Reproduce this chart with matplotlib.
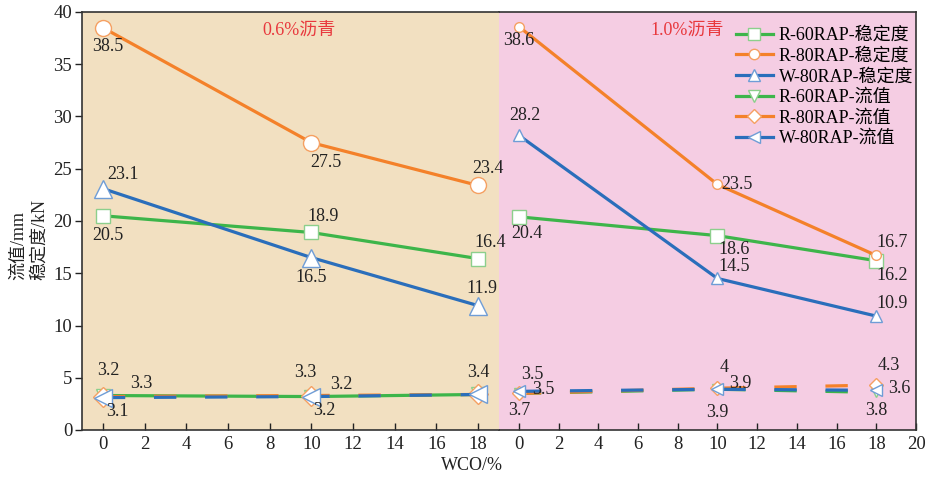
import matplotlib
matplotlib.use("Agg")
import matplotlib.pyplot as plt
from matplotlib.lines import Line2D

plt.rcParams['font.family'] = ['Liberation Serif', 'Noto Sans CJK SC']
plt.rcParams['axes.unicode_minus'] = False

# data
wco = [0, 10, 18]
panel_titles = ['0.6%沥青', '1.0%沥青']
series_names = ['R-60RAP-稳定度', 'R-80RAP-稳定度', 'W-80RAP-稳定度',
                'R-60RAP-流值', 'R-80RAP-流值', 'W-80RAP-流值']

# stability (kN), [0.6%, 1.0%]
r60_stab = [[20.5, 18.9, 16.4], [20.4, 18.6, 16.2]]
r80_stab = [[38.5, 27.5, 23.4], [38.6, 23.5, 16.7]]
w80_stab = [[23.1, 16.5, 11.9], [28.2, 14.5, 10.9]]
# flow value (mm)
r60_flow = [[3.3, 3.2, 3.4], [3.5, 3.9, 3.6]]
r80_flow = [[3.2, 3.3, 3.4], [3.5, 4.0, 4.3]]
w80_flow = [[3.1, 3.2, 3.4], [3.7, 3.9, 3.8]]

xticks_left = list(range(0, 19, 2))
xticks_right = list(range(0, 21, 2))
yticks = list(range(0, 41, 5))

# styles
GREEN, GREEN_E = '#3DB54A', '#8CCF8C'
ORANGE, ORANGE_E = '#F4812A', '#F5A062'
BLUE, BLUE_E = '#2A6EBB', '#6F9DD6'
bg = ['#F2E0C1', '#F5CDE3']

fig = plt.figure(figsize=(9.26, 4.78), dpi=100)
W, H = 926, 478
bottom, top = 1 - 430 / H, 1 - 12 / H
ax1 = fig.add_axes([82 / W, bottom, (499 - 82) / W, top - bottom])
ax2 = fig.add_axes([499 / W, bottom, (916 - 499) / W, top - bottom])
ax1.set_zorder(2)  # so labels near the boundary are drawn over the pink panel
axes = [ax1, ax2]

# marker sizes per panel (stab sq, circ, tri, flow tri-down, diamond, tri-left)
msz = [[10, 11.5, 12.5, 10, 10, 13], [10, 7, 8.5, 7, 7.5, 8]]

stab = [r60_stab, r80_stab, w80_stab]
flow = [r60_flow, r80_flow, w80_flow]
cols = [(GREEN, GREEN_E), (ORANGE, ORANGE_E), (BLUE, BLUE_E)]
smark = ['s', 'o', '^']
fmark = ['v', 'D', '<']

def off(dx, dy):
    return (dx * 0.72, dy * 0.72)

# label offsets in pixels (dx, dy)
stab_offs = [
    [[(5, -20), (12, 16), (12, 16)], [(8, -17), (17, -14), (16, -15)]],
    [[(5, -19), (15, -20), (10, 17)], [(0, -14), (20, 0), (16, 13)]],
    [[(20, 14), (0, -20), (4, 17)], [(6, 20), (17, 12), (16, 13)]],
]
flow_offs = [
    [[(38, 12), (30, 12), None], [(24, 4), (23, 6), (23, 4)]],
    [[(5, 26), (-6, 23), (0, 22)], [(13, 19), (7, 21), (13, 20)]],
    [[(15, -14), (13, -14), None], [(0, -19), (0, -23), (0, -20)]],
]

for p, ax in enumerate(axes):
    ax.set_facecolor(bg[p])
    for i in range(3):
        c, ce = cols[i]
        ax.plot(wco, stab[i][p], color=c, lw=2.3, marker=smark[i], ms=msz[p][i],
                mfc='white', mec=ce, mew=1.0, zorder=3)
        for j, v in enumerate(stab[i][p]):
            ax.annotate(f'{v:g}', (wco[j], v), xytext=off(*stab_offs[i][p][j]),
                        textcoords='offset points', ha='center', va='center',
                        fontsize=13, color='#222222', zorder=5)
    for i in range(3):
        c, ce = cols[i]
        ls = '-' if (p == 0 and i == 0) else (0, (7, 9))
        ax.plot(wco, flow[i][p], color=c, lw=2.3, ls=ls, marker=fmark[i], ms=msz[p][3 + i],
                mfc='white', mec=ce, mew=1.0, zorder=3 + i * 0.1)
        for j, v in enumerate(flow[i][p]):
            o = flow_offs[i][p][j]
            if o is None:
                continue
            ax.annotate(f'{v:g}', (wco[j], v), xytext=off(*o),
                        textcoords='offset points', ha='center', va='center',
                        fontsize=13, color='#222222', zorder=5)
    ax.set_ylim(0, 40)
    ax.text(0.52 if p == 0 else 0.45, 0.955, panel_titles[p], transform=ax.transAxes,
            ha='center', va='center', fontsize=13, color='#E8383D')
    ax.tick_params(axis='x', direction='in', length=5, width=1, labelsize=13.5,
                   colors='#222222', pad=4)
    for s in ax.spines.values():
        s.set_color('#333333')
        s.set_linewidth(1.2)

ax1.set_xlim(-1, 19)
ax1.set_xticks(xticks_left)
ax2.set_xlim(-1, 20)
ax2.set_xticks(xticks_right)
ax1.set_yticks(yticks)
ax1.tick_params(axis='y', direction='out', length=5, width=1, labelsize=13.5,
                colors='#222222', pad=2)
ax1.spines['right'].set_visible(False)
ax2.spines['left'].set_visible(False)
ax2.set_yticks([])

leg_ms = [8.5, 7.5, 8, 8, 7, 8]
handles = []
for k in range(6):
    c, ce = cols[k % 3]
    mk = (smark + fmark)[k]
    handles.append(Line2D([], [], color=c, lw=2.3, marker=mk, ms=leg_ms[k],
                          mfc='white', mec=ce, mew=1.0))
ax2.legend(handles, series_names, loc='upper right',
           bbox_to_anchor=(913 / W, 1 - 27 / H), bbox_transform=fig.transFigure,
           frameon=False, fontsize=13, handlelength=2.1, handletextpad=0.28,
           labelspacing=0.2, borderaxespad=0, borderpad=0)

fig.text(29 / W, 1 - 240 / H, '流值/mm\n稳定度/kN', rotation=90, ha='center', va='center',
         fontsize=13, color='#222222', linespacing=1.3, multialignment='left')
fig.text(472 / W, 1 - 465 / H, 'WCO/%', ha='center', va='center', fontsize=13,
         color='#222222')

fig.savefig('out.png', dpi=100)
